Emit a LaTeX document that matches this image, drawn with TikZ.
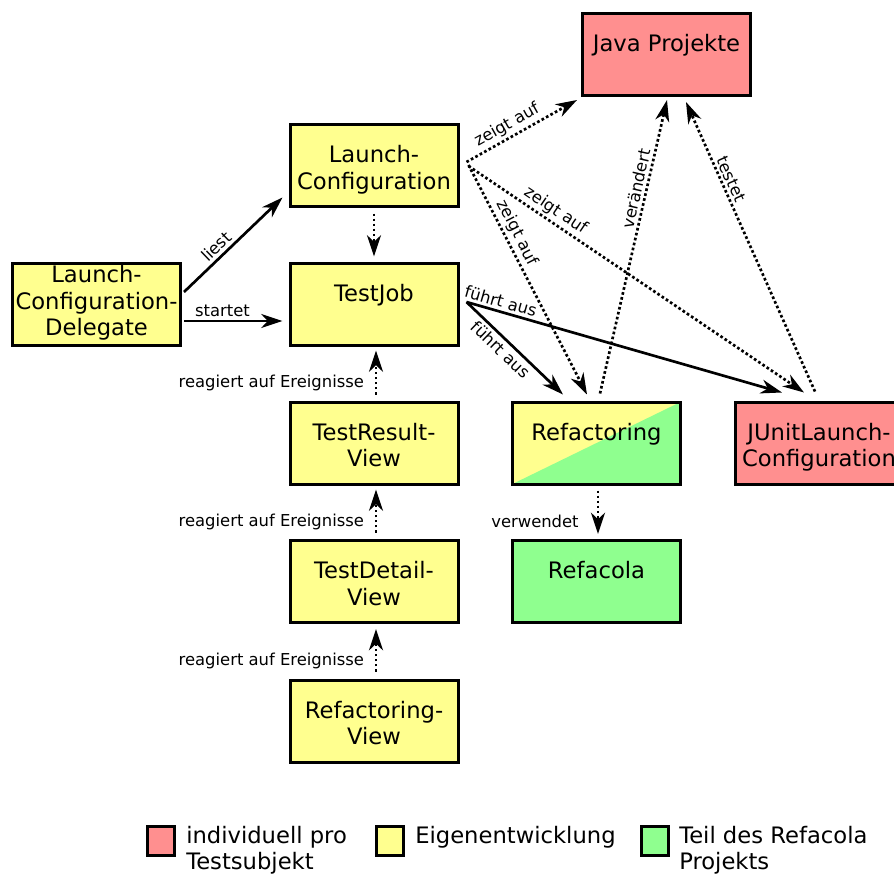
\documentclass[tikz,border=0pt]{standalone}
\usepackage{fontspec}
\setmainfont{DejaVu Sans}
\usetikzlibrary{arrows.meta,calc}

\definecolor{indiv}{RGB}{255,143,143}
\definecolor{eigen}{RGB}{255,255,143}
\definecolor{refac}{RGB}{143,255,143}

% stacked lines whose baseline is that of the first line
\newcommand{\mlines}[1]{\begin{tabular}[t]{@{}c@{}}#1\end{tabular}}
\newcommand{\llines}[1]{\begin{tabular}[t]{@{}l@{}}#1\end{tabular}}

\begin{document}
\begin{tikzpicture}[x=0.75pt, y=-0.75pt,
  box/.style={draw, line width=2.25pt, minimum width=126pt, minimum height=61.5pt, inner sep=0pt},
  txt/.style={font=\fontsize{17}{20}\selectfont, inner sep=0pt, anchor=base},
  lbl/.style={font=\fontsize{12.3}{14}\selectfont, inner sep=2pt},
  conn/.style={line width=2pt, -{Stealth[length=16pt,width=10.5pt,inset=5pt]}},
  dots/.style={conn, dash pattern=on 2pt off 1.8pt},
  legbox/.style={draw, line width=2.25pt, minimum width=20pt, minimum height=22pt, inner sep=0pt}
]
\useasboundingbox (0,0) rectangle (894,875);

% components
\node[box, fill=indiv] (jp)  at (666.5,54.5) {};
\node[box, fill=eigen] (lc)  at (374,165) {};
\node[box, fill=eigen] (tj)  at (374,304) {};
\node[box, fill=eigen] (lcd) at (96.5,304) {};
\node[box, fill=eigen] (trv) at (374,443) {};
\node[box, fill=eigen] (tdv) at (374,581.5) {};
\node[box, fill=eigen] (rv)  at (374,721) {};
\node[box, fill=eigen, path picture={
    \fill[refac] (path picture bounding box.south west) -- (path picture bounding box.south east)
      -- (path picture bounding box.north east) -- cycle;}] (rf) at (596.5,443) {};
\node[box, fill=refac] (rc)  at (596.5,581.5) {};
\node[box, fill=indiv] (ju)  at (819,443) {};

% component names
\node[txt] (jp-t)  at ($(jp.north)+(0,39)$)  {Java Projekte};
\node[txt] (lc-t)  at ($(lc.north)+(0,40)$)  {\mlines{Launch-\\Configuration}};
\node[txt] (tj-t)  at ($(tj.north)+(0,39.5)$) {TestJob};
\node[txt] (lcd-t) at ($(lcd.north)+(0,21)$) {\mlines{Launch-\\Configuration-\\Delegate}};
\node[txt] (trv-t) at ($(trv.north)+(0,39.5)$) {\mlines{TestResult-\\View}};
\node[txt] (tdv-t) at ($(tdv.north)+(0,39.5)$) {\mlines{TestDetail-\\View}};
\node[txt] (rv-t)  at ($(rv.north)+(0,39.5)$)  {\mlines{Refactoring-\\View}};
\node[txt] (rf-t)  at ($(rf.north)+(0,39.5)$)  {Refactoring};
\node[txt] (rc-t)  at ($(rc.north)+(0,39.5)$)  {Refacola};
\node[txt] (ju-t)  at ($(ju.north)+(0,39.5)$)  {\mlines{JUnitLaunch-\\Configuration}};

% relations
\draw[conn] ($(lcd.east)+(2,-12)$) -- node[lbl, sloped, above, pos=0.4] (l-liest) {liest} ($(lc.south west)+(-6,-10)$);
\draw[conn] ($(lcd.east)+(2,17)$) -- node[lbl, above, pos=0.39] (l-startet) {startet} ($(tj.west)+(-6,17)$);
\draw[dots] ($(lc.south)+(0,6)$) -- ($(tj.north)+(0,-5)$);

\draw[dots] ($(trv.north)+(2,-6)$) -- node[lbl, left=6pt, pos=0.27] (l-re1) {reagiert auf Ereignisse} ($(tj.south)+(2,4)$);
\draw[dots] ($(tdv.north)+(2,-6.5)$) -- node[lbl, left=6pt, pos=0.25] (l-re2) {reagiert auf Ereignisse} ($(trv.south)+(2,4)$);
\draw[dots] ($(rv.north)+(2,-7)$) -- node[lbl, left=6pt, pos=0.25] (l-re3) {reagiert auf Ereignisse} ($(tdv.south)+(2,5)$);

\draw[dots] ($(lc.east)+(7,-3)$) -- node[lbl, sloped, above, pos=0.42] (l-zj) {zeigt auf} ($(jp.south west)+(-4,3)$);
\draw[dots] ($(lc.east)+(9,0)$) -- node[lbl, sloped, above, pos=0.32] (l-zr) {zeigt auf} ($(rf.north)+(-9.5,-6)$);
\draw[dots] ($(lc.east)+(9,1)$) -- node[lbl, sloped, above, pos=0.24] (l-zu) {zeigt auf} ($(ju.north)+(-15,-8)$);

\draw[conn] ($(tj.east)+(7,-2)$) -- node[lbl, sloped, below, pos=0.43] (l-fr) {führt aus} ($(rf.north)+(-33.5,-6)$);
\draw[conn] ($(tj.east)+(7,-2)$) -- node[lbl, sloped, above, pos=0.10] (l-fu) {führt aus} ($(ju.north)+(-37,-8)$);

\draw[dots] ($(rf.north)+(3.5,-7)$) -- node[lbl, sloped, above, pos=0.69] (l-ver) {verändert} ($(jp.south)+(0.5,3)$);
\draw[dots] ($(ju.north)+(-4,-9)$) -- node[lbl, sloped, above, pos=0.72] (l-tst) {testet} ($(jp.south)+(19.5,5)$);
\draw[dots] ($(rf.south)+(1.5,5)$) -- node[lbl, left=11.5pt, pos=0.7] (l-vw) {verwendet} ($(rc.north)+(1.5,-5)$);

% legend
\node[legbox, fill=indiv] (leg-r) at (161,841) {};
\node[legbox, fill=eigen] (leg-y) at (390,841) {};
\node[legbox, fill=refac] (leg-g) at (655,841) {};
\node[txt, anchor=base west] (leg-r-t) at (186,843) {\llines{individuell pro\\Testsubjekt}};
\node[txt, anchor=base west] (leg-y-t) at (415,843) {Eigenentwicklung};
\node[txt, anchor=base west] (leg-g-t) at (679,843) {\llines{Teil des Refacola\\Projekts}};
\end{tikzpicture}
\end{document}
